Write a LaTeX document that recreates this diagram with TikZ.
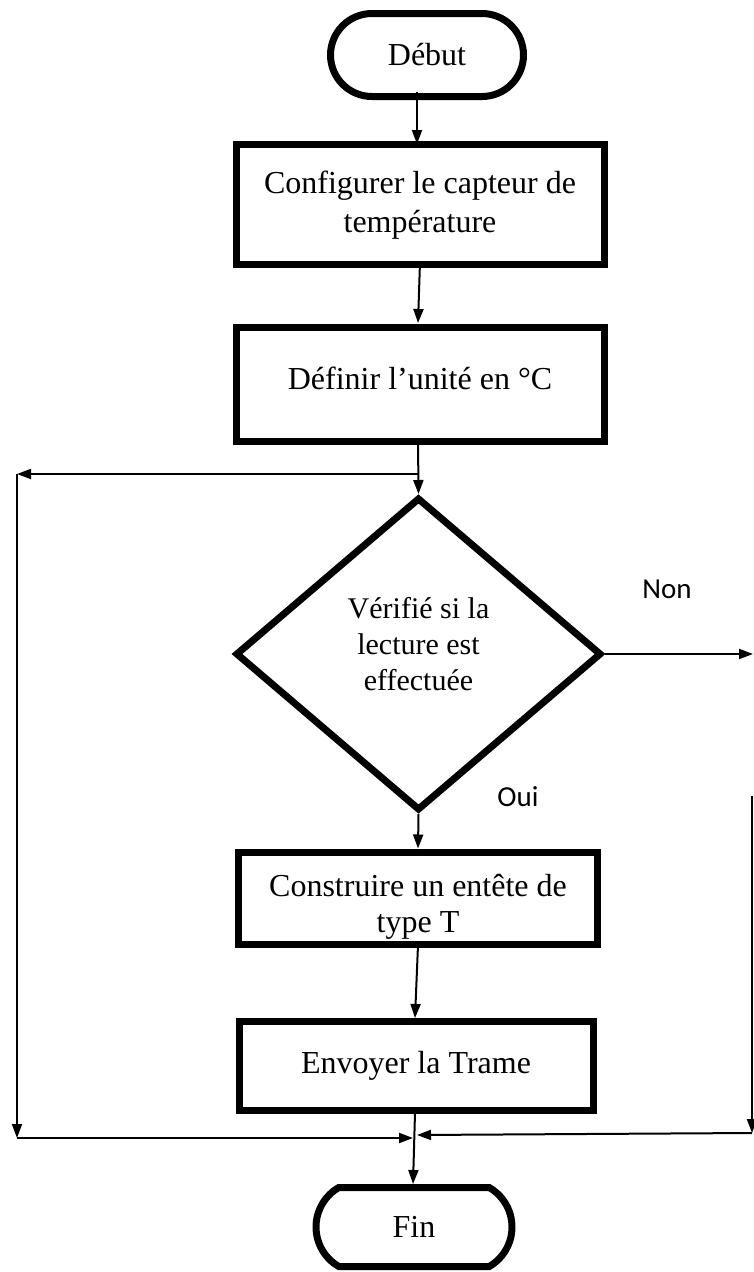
\documentclass[tikz,border=0pt]{standalone}
\usepackage{fontspec}
\setmainfont{Liberation Serif}
\newfontfamily\calfont{Carlito}
\usetikzlibrary{shapes.misc,shapes.geometric,arrows.meta}
\tikzset{
  procbox/.style={draw, line width=7pt, inner sep=0pt},
  boxtxt/.style={align=center, inner sep=0pt, font=\fontsize{32}{39}\selectfont},
  term/.style={draw, line width=7pt, rounded rectangle, align=center,
    font=\fontsize{32}{36}\selectfont, inner sep=0pt},
  arr/.style={line width=2pt, -{Triangle[length=14pt,width=10pt]}},
  lbl/.style={font=\calfont\fontsize{29}{32}\selectfont, inner sep=0pt}
}
\begin{document}
\begin{tikzpicture}[x=1pt,y=-1pt]
\useasboundingbox (0,0) rectangle (754,1272);
\node[term, minimum width=193pt, minimum height=83pt] (debut) at (427,55) {Début};
\node[procbox, minimum width=368pt, minimum height=120pt] (b1) at (420,204) {};
\node[boxtxt] (t1) at (420,205) {Configurer le capteur de\\température};
\node[procbox, minimum width=368pt, minimum height=114pt] (b2) at (420,384) {};
\node[boxtxt] (t2) at (420,378) {Définir l’unité en °C};
\node[draw, diamond, line width=7pt, minimum width=366pt, minimum height=313pt, inner sep=0pt] (dec) at (418.5,654) {};
\node[boxtxt, font=\fontsize{30}{36}\selectfont] (t3) at (418.5,644) {Vérifié si la\\lecture est\\effectuée};
\node[procbox, minimum width=359pt, minimum height=92pt] (b3) at (418,898) {};
\node[boxtxt, font=\fontsize{32}{36}\selectfont] (t4) at (418,907) {Construire un entête de\\type T};
\node[procbox, minimum width=354pt, minimum height=89pt] (b4) at (416,1066) {};
\node[boxtxt] (t5) at (416,1065.5) {Envoyer la Trame};
\node[term, rounded rectangle arc length=120, minimum width=196pt, minimum height=79pt] (fin) at (414,1227) {Fin};
\node[lbl] (non) at (667,589) {Non};
\node[lbl] (oui) at (518,797) {Oui};

\coordinate (s1) at (417,92);
\coordinate (e1) at (417,144);
\coordinate (s2) at (420,262);
\coordinate (e2) at (418,323);
\coordinate (s3) at (418,438);
\coordinate (jL) at (418,474);
\coordinate (lt) at (17,474);
\coordinate (lb) at (17,1138);
\coordinate (jB) at (413,1138);
\coordinate (r1) at (753,654);
\coordinate (rt) at (752,796);
\coordinate (rb) at (752,1133);
\coordinate (jR) at (417,1135);
\coordinate (s5) at (418,945);
\coordinate (e5) at (415,1018);
\coordinate (s6) at (415,1113);
\coordinate (e6) at (413,1184);

\draw[arr] (s1) -- (e1);
\draw[arr] (s2) -- (e2);
\draw[arr] (s3) -- (dec.north);
\draw[arr] (jL) -- (lt);
\draw[arr] (lt) -- (lb);
\draw[arr] (lb) -- (jB);
\draw[arr] (dec.east) -- (r1);
\draw[arr] (rt) -- (rb);
\draw[arr] (rb) -- (jR);
\draw[arr] (dec.south) -- (b3.north);
\draw[arr] (s5) -- (e5);
\draw[arr] (s6) -- (e6);
\end{tikzpicture}
\end{document}
